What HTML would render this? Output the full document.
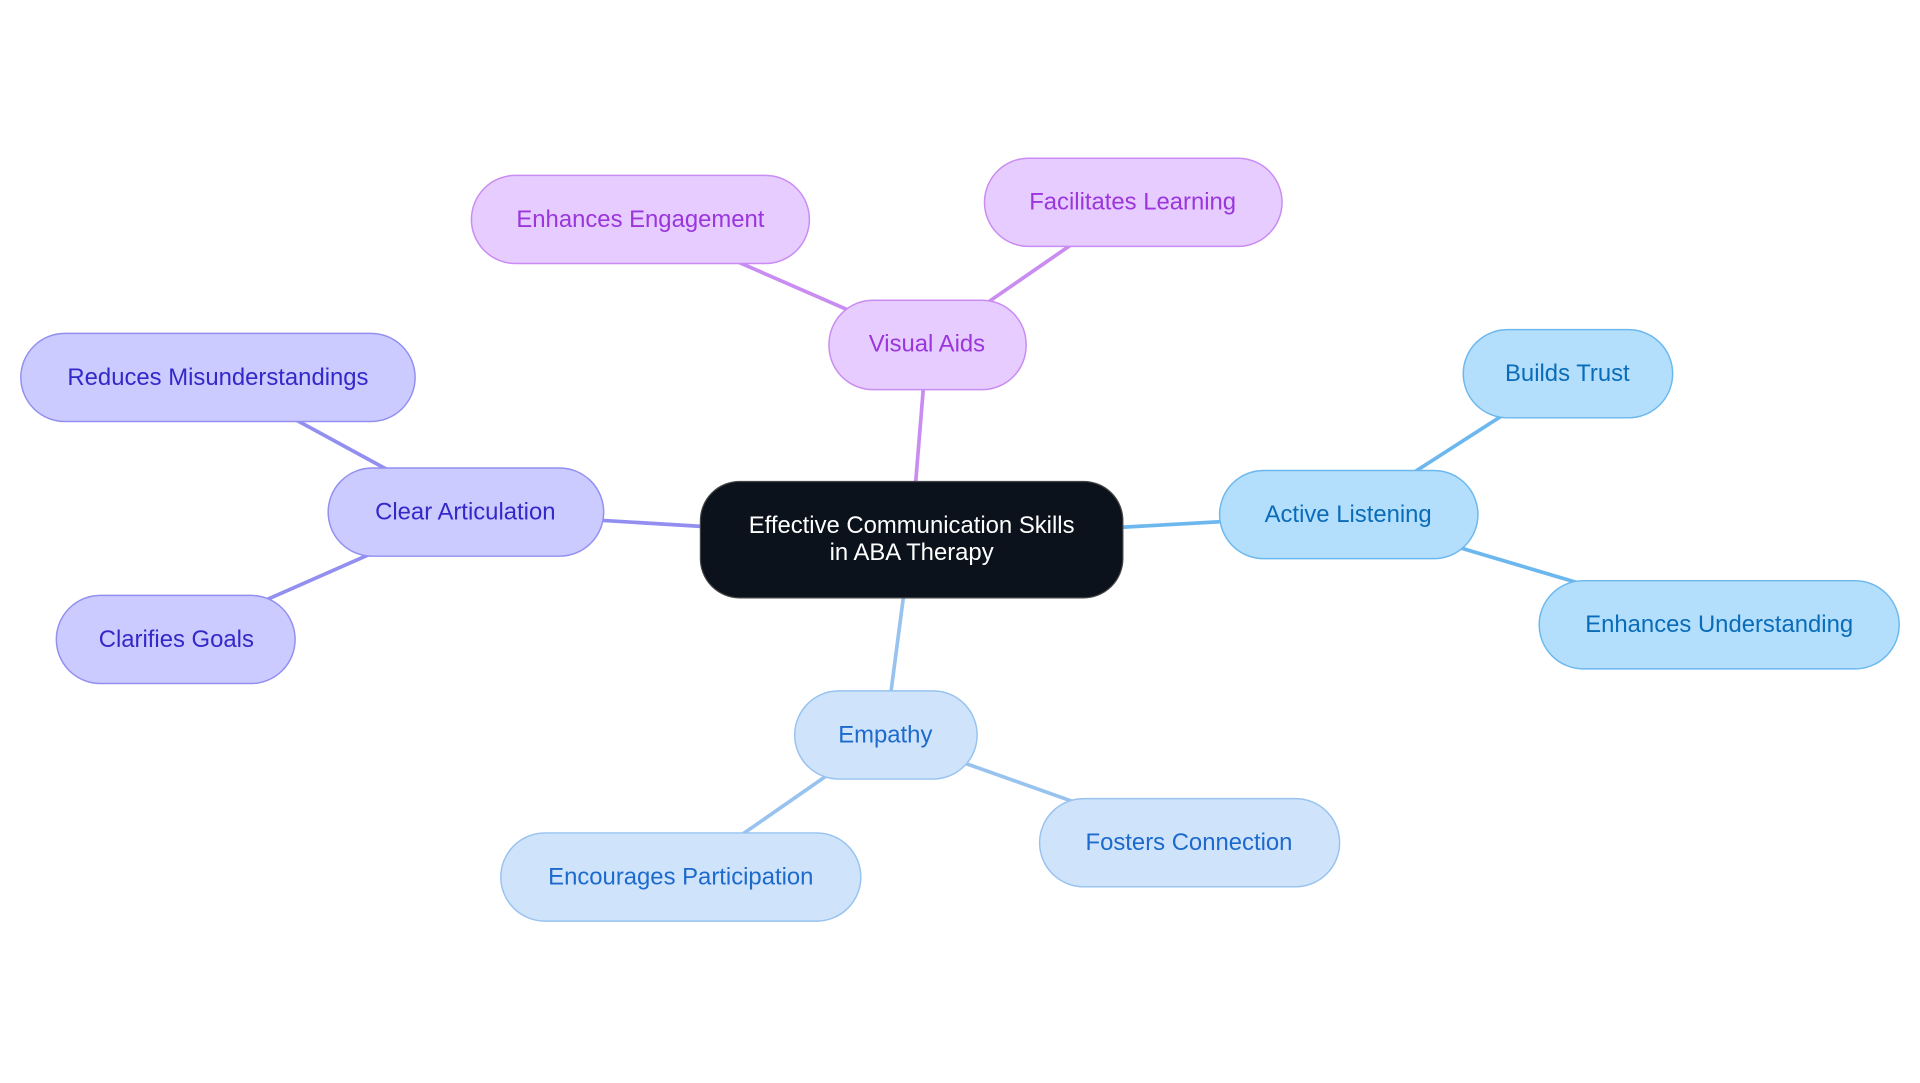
<!DOCTYPE html>
<html><head><meta charset="utf-8"><style>
html,body{margin:0;padding:0;background:#fff;width:1920px;height:1083px;overflow:hidden}
svg{display:block}
text{font-family:"Liberation Sans",sans-serif;font-size:19.5px;text-anchor:middle}
</style></head><body>
<svg width="1920" height="1083" viewBox="0 0 1568 884" xmlns="http://www.w3.org/2000/svg">
<g stroke-width="3" fill="none">
<line x1="744" y1="440" x2="757" y2="281" stroke="#c98cf2"/>
<line x1="757" y1="281" x2="523" y2="179" stroke="#c98cf2"/>
<line x1="757" y1="281" x2="925" y2="165" stroke="#c98cf2"/>
<line x1="744" y1="440" x2="380" y2="418" stroke="#928ff0"/>
<line x1="380" y1="418" x2="178" y2="308" stroke="#928ff0"/>
<line x1="380" y1="418" x2="144" y2="522" stroke="#928ff0"/>
<line x1="744" y1="440" x2="1101" y2="420" stroke="#6cb8ee"/>
<line x1="1101" y1="420" x2="1280" y2="305" stroke="#6cb8ee"/>
<line x1="1101" y1="420" x2="1404" y2="510" stroke="#6cb8ee"/>
<line x1="744" y1="440" x2="723" y2="600" stroke="#98c3ef"/>
<line x1="723" y1="600" x2="556" y2="716" stroke="#98c3ef"/>
<line x1="723" y1="600" x2="971" y2="688" stroke="#98c3ef"/>
</g>
<rect x="572" y="393" width="345" height="95" rx="32" fill="#0c121c" stroke="#444" stroke-width="1"/>
<text x="744.5" y="435" fill="#fff">Effective Communication Skills</text>
<text x="744.5" y="457" fill="#fff">in ABA Therapy</text>
<g fill="#e6ccff" stroke="#c98cf2" stroke-width="1.2">
<rect x="677" y="245" width="161" height="73" rx="36"/>
<rect x="385" y="143" width="276" height="72" rx="36"/>
<rect x="804" y="129" width="243" height="72" rx="36"/>
</g>
<g fill="#9a36dc">
<text x="757" y="287">Visual Aids</text>
<text x="523" y="185">Enhances Engagement</text>
<text x="925" y="171">Facilitates Learning</text>
</g>
<g fill="#cccbff" stroke="#928ff0" stroke-width="1.2">
<rect x="268" y="382" width="225" height="72" rx="36"/>
<rect x="17" y="272" width="322" height="72" rx="36"/>
<rect x="46" y="486" width="195" height="72" rx="36"/>
</g>
<g fill="#3328c8">
<text x="380" y="424">Clear Articulation</text>
<text x="178" y="314">Reduces Misunderstandings</text>
<text x="144" y="528">Clarifies Goals</text>
</g>
<g fill="#b3dffc" stroke="#6cb8ee" stroke-width="1.2">
<rect x="996" y="384" width="211" height="72" rx="36"/>
<rect x="1195" y="269" width="171" height="72" rx="36"/>
<rect x="1257" y="474" width="294" height="72" rx="36"/>
</g>
<g fill="#0a6cb8">
<text x="1101" y="426">Active Listening</text>
<text x="1280" y="311">Builds Trust</text>
<text x="1404" y="516">Enhances Understanding</text>
</g>
<g fill="#cfe3fb" stroke="#98c3ef" stroke-width="1.2">
<rect x="649" y="564" width="149" height="72" rx="36"/>
<rect x="409" y="680" width="294" height="72" rx="36"/>
<rect x="849" y="652" width="245" height="72" rx="36"/>
</g>
<g fill="#1c6acc">
<text x="723" y="606">Empathy</text>
<text x="556" y="722">Encourages Participation</text>
<text x="971" y="694">Fosters Connection</text>
</g>
</svg>
</body></html>
